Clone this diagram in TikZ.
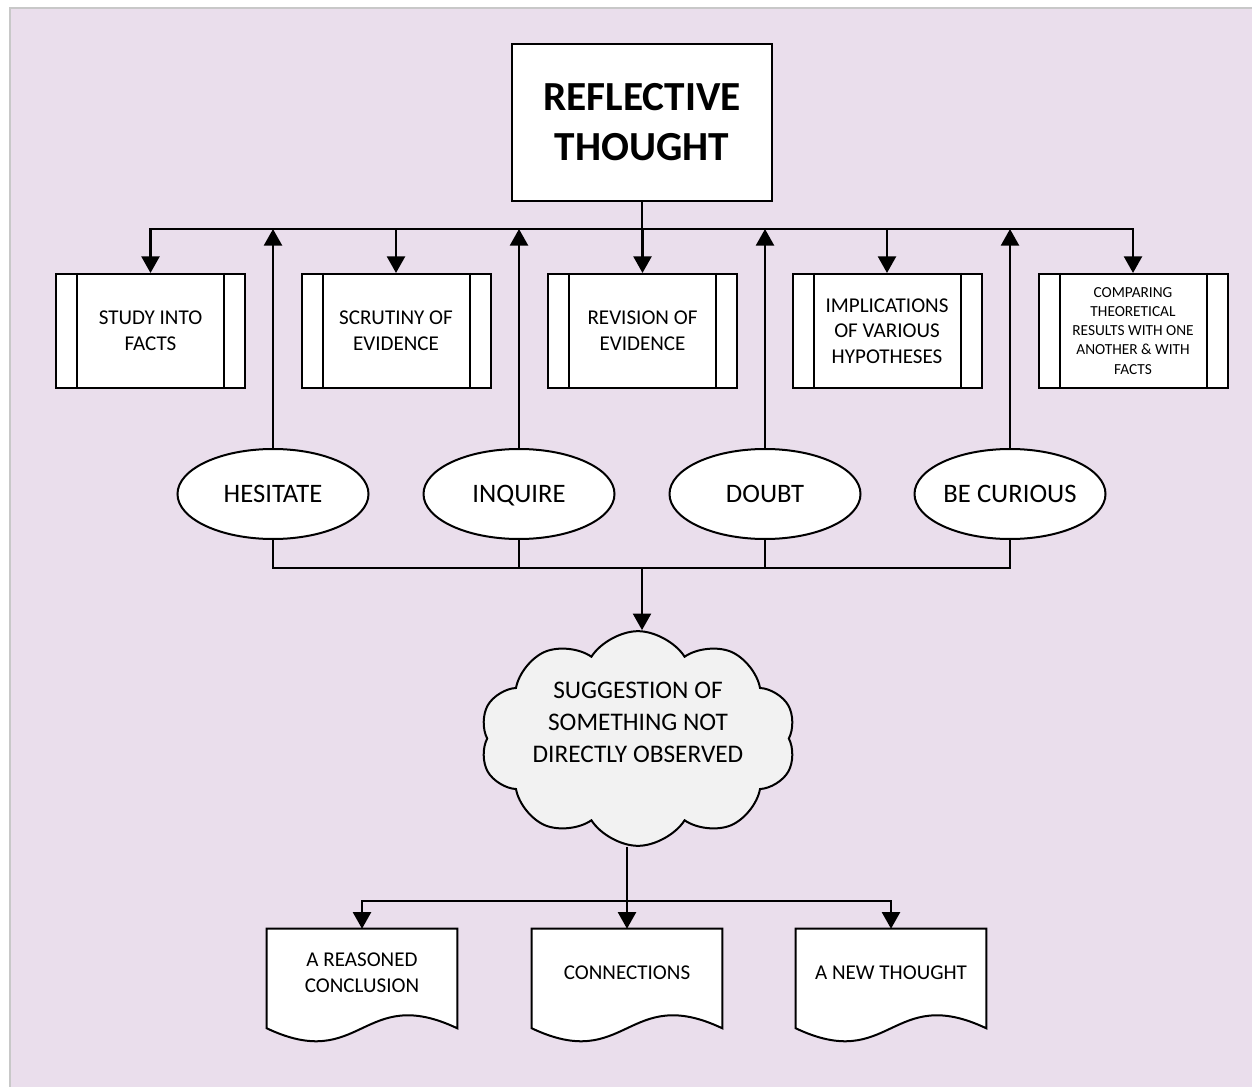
\documentclass[tikz,border=0pt]{standalone}
\usepackage{fontspec}
\setmainfont{Carlito}
\usetikzlibrary{shapes.geometric,shapes.symbols,arrows.meta,calc}
\definecolor{bgpurple}{RGB}{234,222,236}
\definecolor{cloudgray}{RGB}{242,242,242}
\definecolor{edgegray}{RGB}{200,200,200}
\begin{document}
\begin{tikzpicture}[x=0.75pt,y=-0.75pt,
  conn/.style={line width=1.9pt},
  arr/.style={conn,-{Triangle[width=13.5pt,length=12.5pt]}},
  shapeline/.style={line width=1.5pt},
  topbox/.style={shapeline,draw,fill=white,rectangle,minimum width=195pt,minimum height=117.75pt,inner sep=0pt,align=center,font=\fontsize{31}{37.5}\selectfont\bfseries},
  procbox/.style={shapeline,draw,fill=white,rectangle,minimum width=141.75pt,minimum height=85.5pt,inner sep=0pt,align=center,font=\fontsize{15.8}{19.3}\selectfont},
  ell/.style={shapeline,draw,fill=white,ellipse,minimum width=143.25pt,minimum height=67.5pt,inner sep=0pt,text height=12.9pt,text depth=0pt,font=\fontsize{20}{24}\selectfont},
  cloudnode/.style={shapeline,draw,fill=cloudgray,cloud,cloud puffs=10,cloud puff arc=115,aspect=1.39,minimum width=237pt,minimum height=161pt,inner sep=0pt},
  cloudtext/.style={align=center,inner sep=0pt,font=\fontsize{19}{24}\selectfont},
  docbox/.style={rectangle,minimum width=142.5pt,minimum height=74.25pt,inner sep=0pt},
  doctext/.style={align=center,inner sep=0pt,font=\fontsize{15.8}{19.5}\selectfont}
]
\useasboundingbox (0,0) rectangle (1252,1087);
\fill[white] (0,0) rectangle (1252,1087);
\fill[bgpurple] (10,8) rectangle (1252,1087);
\draw[edgegray,line width=0.8pt] (10,1087) -- (10,8) -- (1252,8);

% top
\node[topbox] (top) at (642,122.5) {REFLECTIVE\\THOUGHT};

% process boxes
\node[procbox] (b1) at (150.5,331) {STUDY INTO\\FACTS};
\node[procbox] (b2) at (396,331) {SCRUTINY OF\\EVIDENCE};
\node[procbox] (b3) at (642.5,331) {REVISION OF\\EVIDENCE};
\node[procbox] (b4) at (887,331) {IMPLICATIONS\\OF VARIOUS\\HYPOTHESES};
\node[procbox,font=\fontsize{11.5}{14.3}\selectfont] (b5) at (1133,331) {COMPARING\\THEORETICAL\\RESULTS WITH ONE\\ANOTHER \& WITH\\FACTS};
\foreach \n in {b1,b2,b3,b4,b5}{
  \draw[shapeline] ([xshift=16.5pt]\n.north west) -- ([xshift=16.5pt]\n.south west);
  \draw[shapeline] ([xshift=-16.5pt]\n.north east) -- ([xshift=-16.5pt]\n.south east);
}

% ellipses
\node[ell] (e1) at (273,494) {HESITATE};
\node[ell] (e2) at (519,494) {INQUIRE};
\node[ell] (e3) at (765,494) {DOUBT};
\node[ell] (e4) at (1010,494) {BE CURIOUS};

% cloud
\node[cloudnode] (cl) at (638,738.5) {};
\node[cloudtext] (t0) at (638,722) {SUGGESTION OF\\SOMETHING NOT\\DIRECTLY OBSERVED};

% documents
\node[docbox] (d1) at (362,978.5) {};
\node[docbox] (d2) at (627,978.5) {};
\node[docbox] (d3) at (891,978.5) {};
\foreach \n in {d1,d2,d3}{
  \draw[shapeline,fill=white] (\n.south west) -- (\n.north west) -- (\n.north east) -- (\n.south east)
    .. controls ($(\n.south east)+(-95,-45)$) and ($(\n.south west)+(95,45)$) .. (\n.south west) -- cycle;
}
\node[doctext] (t1) at (362,973) {A REASONED\\CONCLUSION};
\node[doctext] (t2) at (627,973) {CONNECTIONS};
\node[doctext] (t3) at (891,973) {A NEW THOUGHT};

% connectors
\coordinate (bus1) at (642,229);
\coordinate (bus2) at (642,568);
\coordinate (bus3) at (627,901);
\draw[conn] (top.south) -- (bus1);
\foreach \n in {b1,b2,b3,b4,b5}{
  \draw[arr] (bus1) -| (\n.north);
}
\foreach \n in {e1,e2,e3,e4}{
  \draw[arr] (\n.north) -- (\n.north |- bus1);
  \draw[conn] (\n.south) |- (bus2);
}
\draw[arr] (bus2) -- (cl.north -| bus2);
\draw[conn] (cl.south -| bus3) -- (bus3);
\foreach \n in {d1,d2,d3}{
  \draw[arr] (bus3) -| (\n.north);
}
\end{tikzpicture}
\end{document}
